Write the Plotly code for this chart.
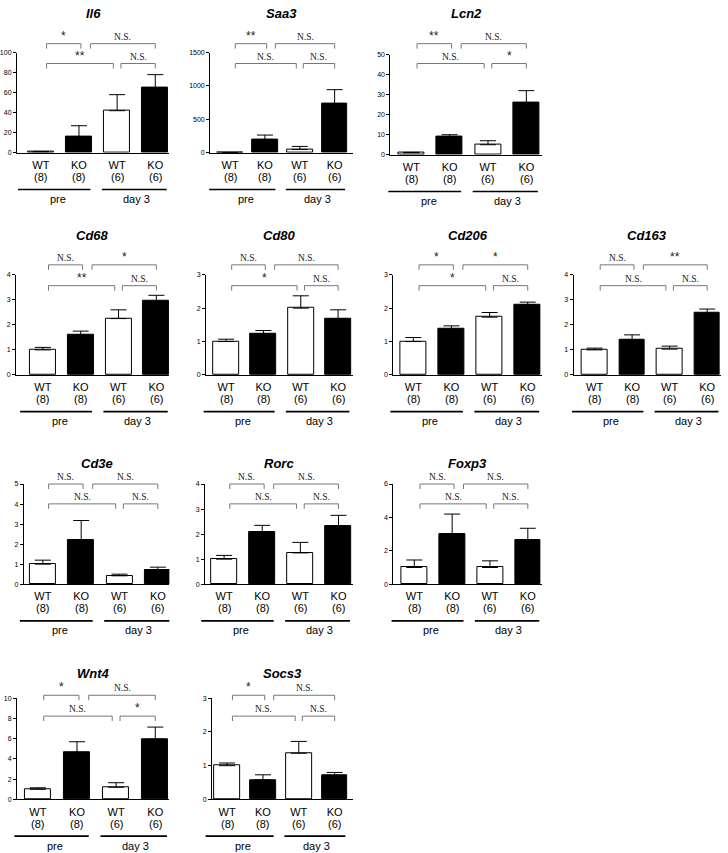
import plotly.graph_objects as go

OFF = 0
W, H = 728, 853

# ---------------- data ----------------
genes = ["Il6", "Saa3", "Lcn2", "Cd68", "Cd80", "Cd206", "Cd163",
         "Cd3e", "Rorc", "Foxp3", "Wnt4", "Socs3"]
groups = ["WT", "KO", "WT", "KO"]
n_labels = ["(8)", "(8)", "(6)", "(6)"]
time_labels = ["pre", "day 3"]

il6_mean = [1, 16, 42, 65];          il6_sem = [0.3, 11, 16, 13]
saa3_mean = [2, 200, 50, 730];       saa3_sem = [1, 65, 45, 215]
lcn2_mean = [1, 9, 5, 26];           lcn2_sem = [0.2, 1, 2, 6]
cd68_mean = [1.0, 1.6, 2.25, 2.95];  cd68_sem = [0.1, 0.15, 0.35, 0.23]
cd80_mean = [1.0, 1.23, 2.0, 1.68];  cd80_sem = [0.07, 0.1, 0.37, 0.27]
cd206_mean = [1.0, 1.37, 1.73, 2.1]; cd206_sem = [0.12, 0.1, 0.14, 0.08]
cd163_mean = [1.0, 1.4, 1.03, 2.47]; cd163_sem = [0.07, 0.2, 0.12, 0.16]
cd3e_mean = [1.0, 2.22, 0.42, 0.7];  cd3e_sem = [0.2, 0.96, 0.08, 0.15]
rorc_mean = [1.0, 2.08, 1.25, 2.32]; rorc_sem = [0.15, 0.27, 0.42, 0.43]
foxp3_mean = [1.0, 3.0, 1.0, 2.62];  foxp3_sem = [0.45, 1.2, 0.4, 0.73]
wnt4_mean = [1.0, 4.65, 1.2, 5.95];  wnt4_sem = [0.15, 1.05, 0.45, 1.2]
socs3_mean = [1.0, 0.58, 1.37, 0.71]; socs3_sem = [0.08, 0.15, 0.35, 0.09]

means = [il6_mean, saa3_mean, lcn2_mean, cd68_mean, cd80_mean, cd206_mean,
         cd163_mean, cd3e_mean, rorc_mean, foxp3_mean, wnt4_mean, socs3_mean]
sems = [il6_sem, saa3_sem, lcn2_sem, cd68_sem, cd80_sem, cd206_sem,
        cd163_sem, cd3e_sem, rorc_sem, foxp3_sem, wnt4_sem, socs3_sem]

y_max = [100, 1500, 50, 4, 3, 3, 4, 5, 4, 6, 10, 3]
y_step = [20, 500, 10, 1, 1, 1, 1, 1, 1, 2, 2, 1]

# comparisons: upper (WTpre-KOpre), upper (KOpre-KOd3), lower (WTpre-WTd3), lower (WTd3-KOd3)
comparisons = [(0, 1), (1, 3), (0, 2), (2, 3)]
signif = [
    ["*", "N.S.", "**", "N.S."],
    ["**", "N.S.", "N.S.", "N.S."],
    ["**", "N.S.", "N.S.", "*"],
    ["N.S.", "*", "**", "N.S."],
    ["N.S.", "N.S.", "*", "N.S."],
    ["*", "*", "*", "N.S."],
    ["N.S.", "**", "N.S.", "N.S."],
    ["N.S.", "N.S.", "N.S.", "N.S."],
    ["N.S.", "N.S.", "N.S.", "N.S."],
    ["N.S.", "N.S.", "N.S.", "N.S."],
    ["*", "N.S.", "N.S.", "*"],
    ["*", "N.S.", "N.S.", "N.S."],
]

# ---------------- layout (window pixels) ----------------
# per panel: axis left px, first bar centre px, bar spacing px, axis right px, row
panel_geo = [
    (14, 38, 38.3, 167, 0), (208, 228, 35.0, 351, 0), (389, 410, 38.5, 541, 0),
    (13, 40, 38.0, 167, 1), (204, 224, 37.5, 351, 1), (392, 412, 38.3, 541, 1),
    (573, 594, 37.7, 721, 1),
    (21, 40, 38.5, 167, 2), (203, 222, 38.3, 351, 2), (392, 413, 38.0, 541, 2),
    (14, 35, 39.3, 167, 3), (210, 225, 36.0, 351, 3),
]
# per row: axis top px, zero px, upper bracket px, lower bracket px, title px
row_geo = [
    (49, 150, 40, 60, 10),
    (273, 374, 263, 284, 233),
    (484, 585, 484, 504, 463),
    (700, 802, 697, 718, 675),
]
BAR_PX = 26
# bracket x offsets (in category units)
br_up = [(0.15, 1.05), (1.3, 3.0)]
br_lo = [(0.15, 1.9), (2.1, 3.0)]
grp_spans = [((-0.6, 1.3), 0.45), ((1.6, 3.3), 2.5)]

SANS = "Liberation Sans"
SERIF = "Liberation Serif"


def px(x):
    return (x - OFF) / W


def py(y):
    return 1 - (y - OFF) / H


fig = go.Figure()
shapes = []
annotations = []

for k, g in enumerate(genes):
    x0, c0, s, x1, r = panel_geo[k]
    top, zero, b_up, b_lo, t_y = row_geo[r]
    if g == "Lcn2":
        top, zero = top + 2, zero + 2
    ax = "" if k == 0 else str(k + 1)
    xr = [(x0 - c0) / s, (x1 - c0) / s]

    def cx(u, c0=c0, s=s):
        return px(c0 + u * s)

    fig.add_trace(go.Bar(
        x=[0, 1, 2, 3], y=means[k],
        width=BAR_PX / s,
        marker=dict(color=["white", "black", "white", "black"],
                    line=dict(color="black", width=1)),
        error_y=dict(type="data", symmetric=False, array=sems[k],
                     arrayminus=[0, 0, 0, 0], color="black",
                     thickness=1, width=8),
        xaxis="x" + ax, yaxis="y" + ax, showlegend=False,
    ))

    fig.layout["xaxis" + ax] = dict(
        domain=[px(x0), px(x1)], range=xr, anchor="y" + ax,
        showline=True, linecolor="black", linewidth=1, ticks="",
        tickvals=[0, 1, 2, 3], ticktext=groups, ticklabelstandoff=2,
        tickfont=dict(family=SANS, size=11, color="black"),
        showgrid=False, zeroline=False, fixedrange=True,
    )
    fig.layout["yaxis" + ax] = dict(
        domain=[py(zero), py(top)], range=[0, y_max[k]], dtick=y_step[k],
        anchor="x" + ax, showline=True, linecolor="black", linewidth=1,
        ticks="outside", ticklen=3, tickcolor="black", tickwidth=1,
        tickfont=dict(family=SANS, size=7, color="black"),
        showgrid=False, zeroline=False, fixedrange=True,
    )

    # title
    annotations.append(dict(
        x=px((x0 + x1) / 2), y=py(t_y), xref="paper", yref="paper",
        text="<b><i>%s</i></b>" % g, showarrow=False,
        font=dict(family=SANS, size=13, color="black"),
        xanchor="center", yanchor="middle"))

    # sample sizes
    for i in range(4):
        annotations.append(dict(
            x=cx(i), y=py(zero + 24.5), xref="paper", yref="paper",
            text=n_labels[i], showarrow=False,
            font=dict(family=SANS, size=11, color="black"),
            xanchor="center", yanchor="middle"))

    # group underlines + labels
    for j, ((a, b), mid) in enumerate(grp_spans):
        shapes.append(dict(type="line", xref="paper", yref="paper",
                           x0=cx(a), x1=cx(b), y0=py(zero + 37), y1=py(zero + 37),
                           line=dict(color="black", width=1.6)))
        annotations.append(dict(
            x=cx(mid), y=py(zero + 46.5), xref="paper", yref="paper",
            text=time_labels[j], showarrow=False,
            font=dict(family=SANS, size=11, color="black"),
            xanchor="center", yanchor="middle"))

    # significance brackets
    spans = [br_up[0], br_up[1], br_lo[0], br_lo[1]]
    levels = [b_up, b_up, b_lo, b_lo]
    for j in range(4):
        a, b = spans[j]
        yl = levels[j]
        path = "M %f,%f L %f,%f L %f,%f L %f,%f" % (
            cx(a), py(yl + 5), cx(a), py(yl), cx(b), py(yl), cx(b), py(yl + 5))
        shapes.append(dict(type="path", xref="paper", yref="paper", path=path,
                           line=dict(color="#777777", width=1)))
        lab = signif[k][j]
        is_ns = lab == "N.S."
        annotations.append(dict(
            x=cx((a + b) / 2), y=py(yl - (7 if is_ns else 8)),
            xref="paper", yref="paper", text=lab, showarrow=False,
            font=dict(family=SERIF if is_ns else SANS,
                      size=9.5 if is_ns else 12, color="#222222"),
            xanchor="center", yanchor="middle"))

fig.update_layout(
    width=W, height=H, margin=dict(l=0, r=0, t=0, b=0),
    paper_bgcolor="white", plot_bgcolor="white",
    shapes=shapes, annotations=annotations, bargap=0,
)

fig.write_html(
    "out.html",
    config={"displayModeBar": False},
    post_script="document.body.style.margin='0';document.body.style.overflow='hidden';",
)
